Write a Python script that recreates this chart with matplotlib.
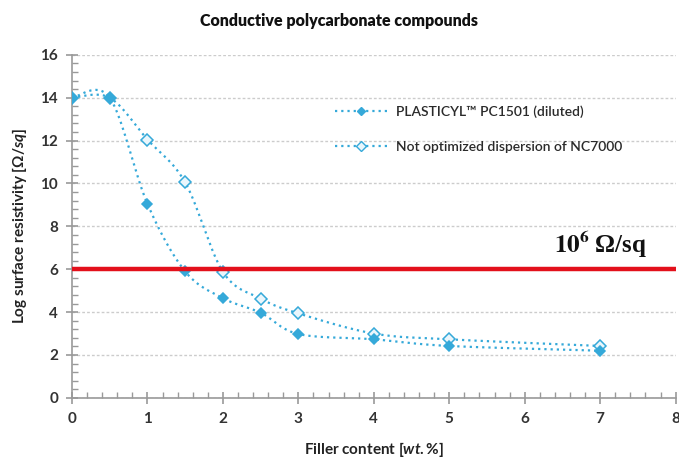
import numpy as np
import matplotlib
matplotlib.use("Agg")
import matplotlib.pyplot as plt
from matplotlib.ticker import MultipleLocator

plt.rcParams['mathtext.fontset'] = 'custom'
plt.rcParams['mathtext.it'] = 'Lato:italic:bold'
plt.rcParams['mathtext.rm'] = 'Lato:bold'

filler = [0, 0.5, 1, 1.5, 2, 2.5, 3, 4, 5, 7]
plasticyl = [14, 14, 9.05, 5.9, 4.65, 3.97, 2.98, 2.73, 2.42, 2.2]
not_opt = [14, 14, 12.05, 10.05, 5.88, 4.63, 3.94, 3.0, 2.73, 2.42]
labels = ["PLASTICYL\u2122 PC1501 (diluted)", "Not optimized dispersion of NC7000"]
threshold = 6

def smooth(x, y, n=40):
    P = np.column_stack([x, y]).astype(float)
    out = []
    for i in range(len(P) - 1):
        p0 = P[i - 1] if i > 0 else P[i]
        p1 = P[i]
        p2 = P[i + 1]
        p3 = P[i + 2] if i + 2 < len(P) else P[i + 1]
        c1 = p1 + (p2 - p0) / 6
        c2 = p2 - (p3 - p1) / 6
        t = np.linspace(0, 1, n)[:, None]
        seg = ((1 - t) ** 3) * p1 + 3 * ((1 - t) ** 2) * t * c1 + 3 * (1 - t) * t ** 2 * c2 + t ** 3 * p2
        out.append(seg if i == 0 else seg[1:])
    S = np.vstack(out)
    return S[:, 0], S[:, 1]

blue = '#35a9d9'
fig = plt.figure(figsize=(6.79, 4.61), dpi=100)
ax = fig.add_axes([0.106, 0.137, 0.889, 0.744])

ls = (0, (1, 1.8))
for ydata, lab, mfc, ms in [(not_opt, labels[1], '#eaf6fc', 6.0), (plasticyl, labels[0], blue, 5.0)]:
    sx, sy = smooth(filler, ydata)
    ax.plot(sx, sy, color=blue, lw=1.6, ls=ls, zorder=3)
    ax.plot(filler, ydata, ls='none', marker='D', ms=ms, mfc=mfc, mec=blue, mew=1.1, zorder=4)

# legend handles
h1, = ax.plot([], [], color=blue, lw=1.6, ls=ls, marker='D', ms=4.5, mfc=blue, mec=blue)
h2, = ax.plot([], [], color=blue, lw=1.6, ls=ls, marker='D', ms=5.0, mfc='#eaf6fc', mec=blue, mew=1.0)
leg = ax.legend([h1, h2], labels, loc='upper left', bbox_to_anchor=(0.415, 0.89),
                frameon=False, prop={'family': 'Lato', 'size': 10, 'weight': 'semibold'},
                handlelength=3.8, labelspacing=1.65, handletextpad=0.6)
for t in leg.get_texts():
    t.set_color('#2a2a2a')

ax.axhline(threshold, color='#e3101b', lw=3.2, zorder=5)
ax.text(7.0, 7.15, "$\\mathbf{10^6}$\u2009\u03a9/sq", ha='center', va='center', fontsize=18,
        family='Liberation Serif', weight='bold', math_fontfamily='stix', color='#111111')

ax.set_xlim(0, 8)
ax.set_ylim(0, 16)
ax.xaxis.set_major_locator(MultipleLocator(1))
ax.xaxis.set_minor_locator(MultipleLocator(0.2))
ax.yaxis.set_major_locator(MultipleLocator(2))
ax.yaxis.set_minor_locator(MultipleLocator(0.4))
ax.grid(axis='y', which='major', color='#cccccc', ls=(0, (2, 1.5)), lw=1.0)
ax.set_axisbelow(True)
for s in ['top', 'right']:
    ax.spines[s].set_visible(False)
for s in ['left', 'bottom']:
    ax.spines[s].set_color('#999999')
    ax.spines[s].set_linewidth(1.2)
ax.tick_params(which='major', direction='inout', length=8, color='#999999', width=1.2)
ax.tick_params(which='minor', direction='in', length=4, color='#999999', width=1)
ax.tick_params(labelsize=11, labelcolor='#333333', pad=6)
for lab in ax.get_xticklabels() + ax.get_yticklabels():
    lab.set_family('Lato')
    lab.set_weight('bold')

ax.set_xlabel(r"Filler content [$\mathit{wt.\%}$]", family='Lato', weight='bold', fontsize=11,
              color='#222222', labelpad=10)
ax.set_ylabel(r"Log surface resistivity [$\mathit{\Omega/sq}$]", family='Lato', weight='bold',
              fontsize=11, color='#222222', labelpad=8)
fig.text(0.5, 0.955, "Conductive polycarbonate compounds", ha='center', va='center',
         family='Lato', weight='heavy', fontsize=11.5, color='#111111')

fig.savefig('out.png', dpi=100)
